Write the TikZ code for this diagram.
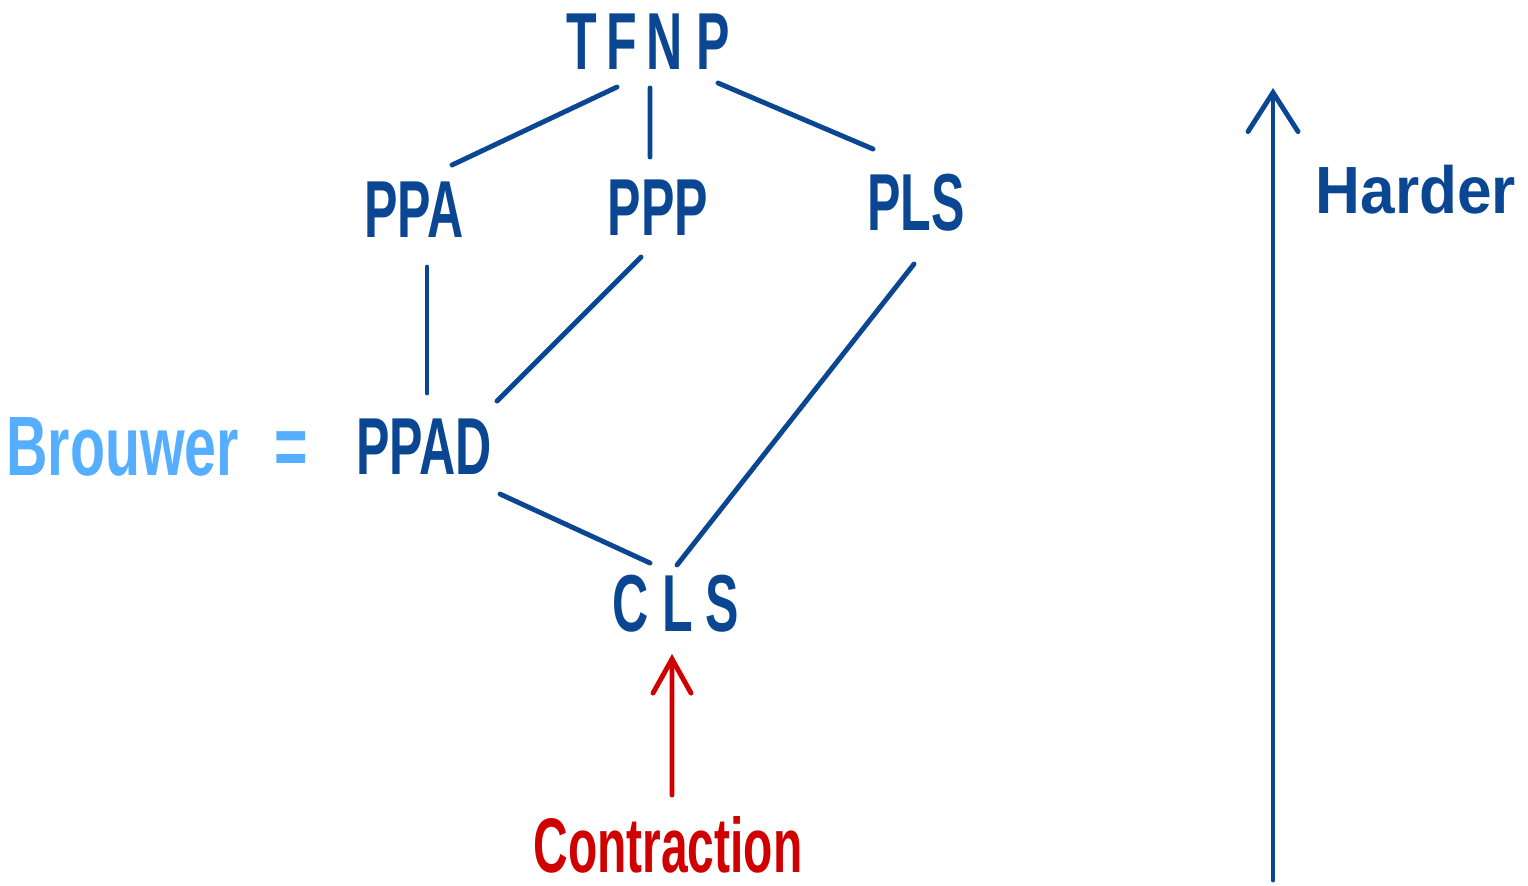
\documentclass[tikz,border=0pt]{standalone}
\usepackage{fontspec}
\setmainfont{Liberation Sans}
\newfontfamily\handfont[FakeStretch=0.62]{Liberation Sans Bold}
\newfontfamily\wordfont[FakeStretch=0.68]{Liberation Sans Bold}
\usetikzlibrary{arrows.meta}

\definecolor{classblue}{RGB}{10,70,145}
\definecolor{lightblue}{RGB}{85,174,255}
\definecolor{contrred}{RGB}{208,0,0}

\begin{document}
\begin{tikzpicture}[line width=1.4pt,line cap=round,auto,node distance=1.6cm]
  \tikzstyle{every node}=[inner sep=0pt,text=classblue]
  \tikzstyle{cls}=[font=\handfont\fontsize{23}{23}\selectfont]
  \tikzstyle{link}=[draw=classblue]

  \useasboundingbox (0,0) rectangle (15.28,-8.85);

  \node[cls]           (TFNP) at (6.48,-0.42) {\addfontfeature{LetterSpace=12}TFN\,P};
  \node[cls]           (PPA)  [below of=TFNP,node distance=1.68cm,xshift=-2.34cm] {PPA};
  \node[cls]           (PPP)  [below of=TFNP,node distance=1.66cm,xshift=0.10cm]  {PPP};
  \node[cls]           (PLS)  [below of=TFNP,node distance=1.61cm,xshift=2.68cm]  {PLS};
  \node[cls]           (PPAD) [below of=PPA,node distance=2.37cm,xshift=0.10cm]   {PPAD};
  \node[cls]           (CLS)  [below of=PPAD,node distance=1.57cm,xshift=2.52cm]  {\addfontfeature{LetterSpace=16}CLS};
  \node[font=\wordfont\fontsize{24}{24}\selectfont,text=lightblue]
                       (brouwer) [left of=PPAD,node distance=2.67cm] {Brouwer\hspace{0.35cm}=};
  \node[font=\handfont\fontsize{22}{22}\selectfont,text=contrred]
                       (contr) [below of=CLS,node distance=2.41cm,xshift=-0.08cm] {Contraction};
  \node[font=\fontsize{19}{19}\selectfont\bfseries\addfontfeature{FakeStretch=0.93}]
                       (harder) at (14.16,-1.90) {Harder};

  \coordinate (hbot) at (12.73,-8.80);
  \coordinate (htop) at (12.73,-0.88);

  % lattice of classes
  \path[link] ([shift={(-0.31,-0.45)}]TFNP.center) edge ([shift={(0.38,0.45)}]PPA.center)
              ([shift={(0.02,-0.46)}]TFNP.center)  edge ([shift={(-0.08,0.51)}]PPP.center)
              ([shift={(0.70,-0.41)}]TFNP.center)  edge ([shift={(-0.43,0.54)}]PLS.center)
              ([shift={(0.13,-0.57)}]PPA.center)   edge ([shift={(0.03,0.54)}]PPAD.center)
              ([shift={(-0.17,-0.49)}]PPP.center)  edge ([shift={(0.73,0.46)}]PPAD.center)
              ([shift={(-0.02,-0.61)}]PLS.center)  edge ([shift={(0.01,0.39)}]CLS.center)
              ([shift={(0.76,-0.47)}]PPAD.center)  edge ([shift={(-0.26,0.41)}]CLS.center);

  % arrows
  \draw[contrred,-{Straight Barb[length=3.4mm,width=3.8mm,line cap=round]}]
    ([shift={(0.04,0.50)}]contr.center) -- ([shift={(-0.04,-0.50)}]CLS.center);
  \draw[classblue,-{Straight Barb[length=3.9mm,width=5mm,line cap=round]}] (hbot) -- (htop);
\end{tikzpicture}
\end{document}
